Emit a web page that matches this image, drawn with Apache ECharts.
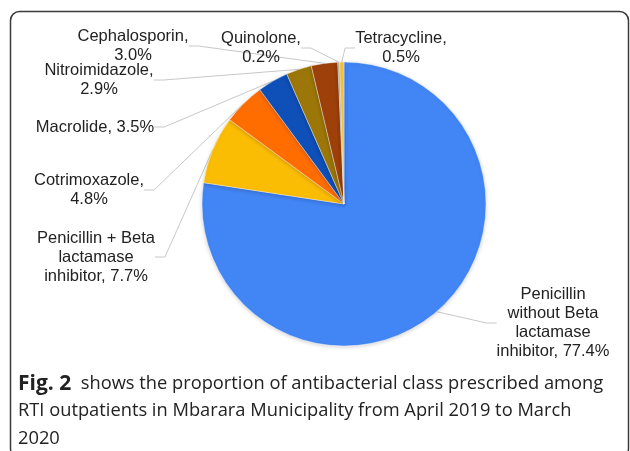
<!DOCTYPE html>
<html>
<head>
<meta charset="utf-8">
<script src="https://cdn.jsdelivr.net/npm/echarts@6/dist/echarts.min.js"></script>
<style>html,body{margin:0;padding:0;background:#fff}#c{width:630px;height:451px}</style>
</head>
<body>
<div id="c"></div>
<script>
// Data
var categories = [
  'Penicillin without Beta lactamase inhibitor',
  'Penicillin + Beta lactamase inhibitor',
  'Cotrimoxazole',
  'Macrolide',
  'Nitroimidazole',
  'Cephalosporin',
  'Quinolone',
  'Tetracycline'
];
var values = [77.4, 7.7, 4.8, 3.5, 2.9, 3.0, 0.2, 0.5];
var labelTexts = [
  'Penicillin\nwithout Beta\nlactamase\ninhibitor, 77.4%',
  'Penicillin + Beta\nlactamase\ninhibitor, 7.7%',
  'Cotrimoxazole,\n4.8%',
  'Macrolide, 3.5%',
  'Nitroimidazole,\n2.9%',
  'Cephalosporin,\n3.0%',
  'Quinolone,\n0.2%',
  'Tetracycline,\n0.5%'
];
var captionBold = 'Fig. 2';
var captionLines = [
  '  shows the proportion of antibacterial class prescribed among',
  'RTI outpatients in Mbarara Municipality from April 2019 to March',
  '2020'
];

// Styles / layout
var colors = ['#4285F4', '#FBBC04', '#FF6D01', '#0F4FB8', '#9C7608', '#9E400A', '#B0B0B0', '#F2C43F'];
var labelPos = [
  [553, 323], [96, 257], [89, 190], [95, 127], [99, 80], [133, 46], [261, 48], [401, 48]
];

var chart = echarts.init(document.getElementById('c'), null, {renderer: 'canvas'});
var data = categories.map(function (c, i) {
  return {name: c, value: values[i], itemStyle: {color: colors[i]}};
});

chart.setOption({
  animation: false,
  backgroundColor: '#fff',
  graphic: [
    {
      type: 'rect', z: 0,
      shape: {x: 10.5, y: 11.5, width: 618, height: 446, r: 9},
      style: {fill: 'none', stroke: '#3a3a3a', lineWidth: 1.5}
    },
    {
      type: 'text', left: 18, top: 370,
      style: {
        text: '{b|' + captionBold + '}' + captionLines[0] + '\n' + captionLines[1] + '\n' + captionLines[2],
        font: '18.3px "Open Sans"',
        fill: '#222',
        lineHeight: 27.5,
        rich: {b: {font: 'bold 21px "Open Sans"', fill: '#222', lineHeight: 27.5}}
      }
    }
  ],
  series: [{
    type: 'pie',
    center: [344, 204],
    radius: [0, 142],
    startAngle: 90,
    clockwise: true,
    avoidLabelOverlap: false,
    data: data,
    itemStyle: {borderColor: '#fff', borderWidth: 0.4, shadowBlur: 4, shadowColor: 'rgba(0,0,0,0.18)', shadowOffsetY: 1},
    label: {
      show: true,
      formatter: function (p) { return labelTexts[p.dataIndex]; },
      fontFamily: '"Liberation Sans", Arial, sans-serif',
      fontSize: 16.5,
      lineHeight: 19,
      color: '#222',
      align: 'center'
    },
    labelLine: {show: true, length: 10, length2: 10, lineStyle: {color: '#c8c8c8', width: 1}},
    labelLayout: function (p) {
      var pos = labelPos[p.dataIndex];
      return {x: pos[0], y: pos[1], align: 'center', verticalAlign: 'middle'};
    },
    emphasis: {disabled: true}
  }]
});
</script>
</body>
</html>
